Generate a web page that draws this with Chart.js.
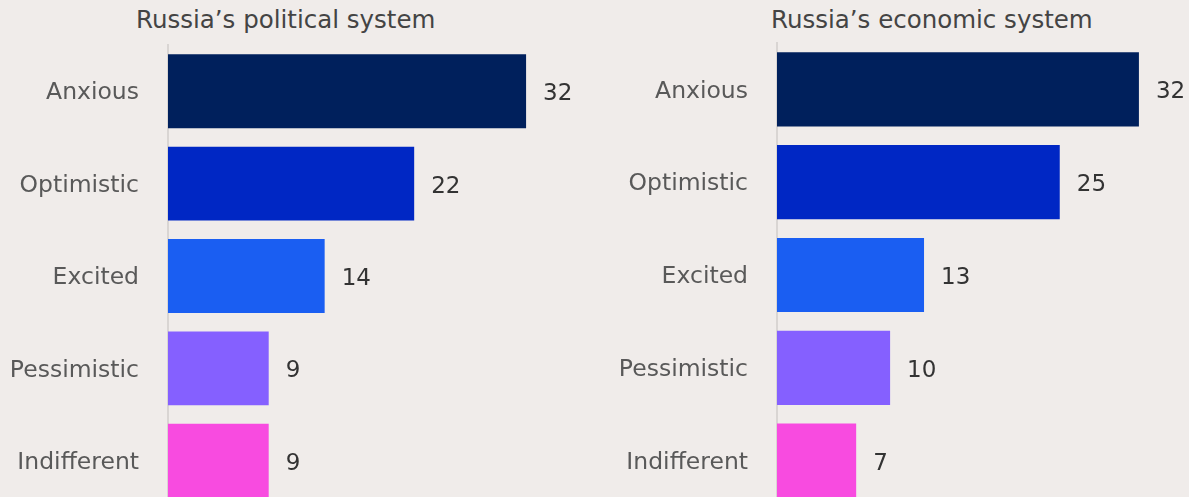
<!DOCTYPE html>
<html>
<head>
<meta charset="utf-8">
<script src="https://cdn.jsdelivr.net/npm/chart.js@4.4.1/dist/chart.umd.min.js"></script>
<style>
html, body { margin: 0; padding: 0; background: #f0ecea; overflow: hidden; }
.wrap { position: relative; width: 1189px; height: 497px; overflow: hidden; }
.panel { position: absolute; top: 0; height: 512px; }
.panel h2 { position: absolute; margin: 0; font: 400 24.5px "DejaVu Sans", sans-serif; color: #444; white-space: nowrap; }
canvas { position: absolute; left: 0; top: 0; }
</style>
</head>
<body>
<div class="wrap">
  <div class="panel" id="p1" style="left:0;width:600px;">
    <h2 style="left:136px;top:5px;">Russia’s political system</h2>
    <canvas id="c1" width="600" height="512" style="width:600px;height:512px;"></canvas>
  </div>
  <div class="panel" id="p2" style="left:600px;width:589px;">
    <h2 style="left:171px;top:5px;">Russia’s economic system</h2>
    <canvas id="c2" width="589" height="512" style="width:589px;height:512px;"></canvas>
  </div>
</div>
<script>
const categories = ['Anxious', 'Optimistic', 'Excited', 'Pessimistic', 'Indifferent'];
const politicalValues = [32, 22, 14, 9, 9];
const economicValues = [32, 25, 13, 10, 7];
const barColors = ['#00205c', '#0027c4', '#1a5ef2', '#8560ff', '#f84be0'];

// value labels to the right of each bar
const valueLabels = {
  id: 'valueLabels',
  afterDatasetsDraw(chart) {
    const ctx = chart.ctx;
    const meta = chart.getDatasetMeta(0);
    ctx.save();
    ctx.font = '23px "DejaVu Sans", sans-serif';
    ctx.fillStyle = '#333';
    ctx.textAlign = 'left';
    ctx.textBaseline = 'middle';
    meta.data.forEach((bar, i) => {
      ctx.fillText(chart.data.datasets[0].data[i], bar.x + 17, bar.y + 3);
    });
    ctx.restore();
  }
};

function makeChart(id, values, axisX, top, xMax, padRight) {
  return new Chart(document.getElementById(id), {
    type: 'bar',
    data: {
      labels: categories,
      datasets: [{
        data: values,
        backgroundColor: barColors,
        borderWidth: 0,
        barPercentage: 0.8,
        categoryPercentage: 1
      }]
    },
    options: {
      indexAxis: 'y',
      responsive: false,
      maintainAspectRatio: false,
      animation: false,
      layout: { padding: { top: top, right: padRight, bottom: 5, left: 0 } },
      plugins: { legend: { display: false }, tooltip: { enabled: false } },
      scales: {
        x: { display: false, min: 0, max: xMax },
        y: {
          afterFit(scale) {
            scale.width = axisX;
            scale.paddingTop = 0;
            scale.paddingBottom = 0;
          },
          grid: { display: false, drawTicks: false },
          border: { display: true, color: '#d9d5d3', width: 2 },
          ticks: {
            padding: 29,
            labelOffset: 2,
            color: '#595959',
            font: { family: 'DejaVu Sans', size: 23.5 }
          }
        }
      }
    },
    plugins: [valueLabels]
  });
}

makeChart('c1', politicalValues, 168, 45, 36, 600 - 168 - 36 * 11.19);
makeChart('c2', economicValues, 177, 43, 36, 589 - 177 - 36 * 11.31);
</script>
</body>
</html>
